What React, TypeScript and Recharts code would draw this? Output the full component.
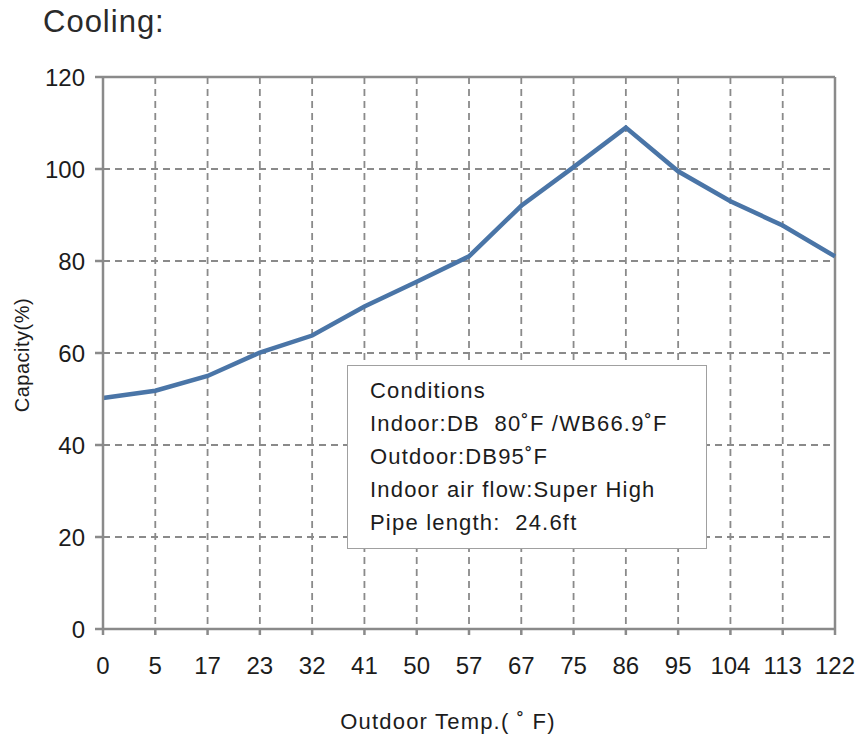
import { LineChart, Line, XAxis, YAxis, CartesianGrid, ReferenceLine } from 'recharts';

const temps = ['0', '5', '17', '23', '32', '41', '50', '57', '67', '75', '86', '95', '104', '113', '122'];
const capacity = [50.2, 51.8, 55, 60.1, 63.8, 70.1, 75.5, 81, 92, 100.4, 109, 99.5, 93, 87.7, 81];
const yTicks = [0, 20, 40, 60, 80, 100, 120];
const conditions = [
  'Conditions',
  'Indoor:DB  80˚F /WB66.9˚F',
  'Outdoor:DB95˚F',
  'Indoor air flow:Super High',
  'Pipe length:  24.6ft',
];

const data = temps.map((t, i) => ({ t, cap: capacity[i] }));

const font = '"Liberation Sans", Arial, sans-serif';
const gridColor = '#8a8a8a';
const textColor = '#1c1c1c';

export default function App() {
  return (
    <div style={{ position: 'absolute', left: 0, top: 0, width: 856, height: 735, fontFamily: font, background: '#fff' }}>
      <div style={{ position: 'absolute', left: 43, top: 5, fontSize: 31, lineHeight: '33px', letterSpacing: 1, color: '#2a2a2a' }}>
        Cooling:
      </div>
      <LineChart width={856} height={735} data={data} margin={{ top: 77, right: 21, bottom: 0, left: 0 }}>
        <CartesianGrid stroke={gridColor} strokeWidth={1.8} strokeDasharray="7 5" />
        <XAxis
          dataKey="t"
          type="category"
          interval={0}
          height={106}
          stroke={gridColor}
          strokeWidth={2.5}
          tickSize={6}
          tickMargin={22}
          tick={{ fill: textColor, fontSize: 24, fontFamily: font }}
          label={{
            content: () => (
              <text x={448} y={729} textAnchor="middle" fill={textColor} fontSize={22} fontFamily={font} style={{ letterSpacing: '1.2px' }}>
                Outdoor Temp.( ˚ F)
              </text>
            ),
          }}
        />
        <YAxis
          domain={[0, 120]}
          ticks={yTicks}
          width={103}
          stroke={gridColor}
          strokeWidth={2.5}
          tickSize={8}
          tickMargin={10}
          tick={{ fill: textColor, fontSize: 24, fontFamily: font }}
          label={{
            content: (props: any) => {
              const vb = props.viewBox || { x: 0, y: 77, height: 552 };
              const x = 22;
              const y = vb.y + vb.height / 2 + 2;
              return (
                <text x={x} y={y} transform={`rotate(-90 ${x} ${y})`} textAnchor="middle" dominantBaseline="central" fill={textColor} fontSize={20} fontFamily={font} style={{ letterSpacing: '0.5px' }}>
                  Capacity(%)
                </text>
              );
            },
          }}
        />
        <ReferenceLine y={120} stroke={gridColor} strokeWidth={2.5} />
        <ReferenceLine x="122" stroke={gridColor} strokeWidth={2.5} />
        <Line type="linear" dataKey="cap" stroke="#4a75a7" strokeWidth={4.5} dot={false} isAnimationActive={false} />
      </LineChart>
      <div
        style={{
          position: 'absolute',
          left: 347,
          top: 365,
          width: 360,
          height: 184,
          boxSizing: 'border-box',
          border: '1.5px solid #a0a0a0',
          background: '#fff',
          padding: '8px 0 0 22px',
          fontSize: 22,
          lineHeight: '33px',
          letterSpacing: 1.2,
          color: textColor,
          whiteSpace: 'pre',
        }}
      >
        {conditions.map((c) => (
          <div key={c}>{c}</div>
        ))}
      </div>
    </div>
  );
}
